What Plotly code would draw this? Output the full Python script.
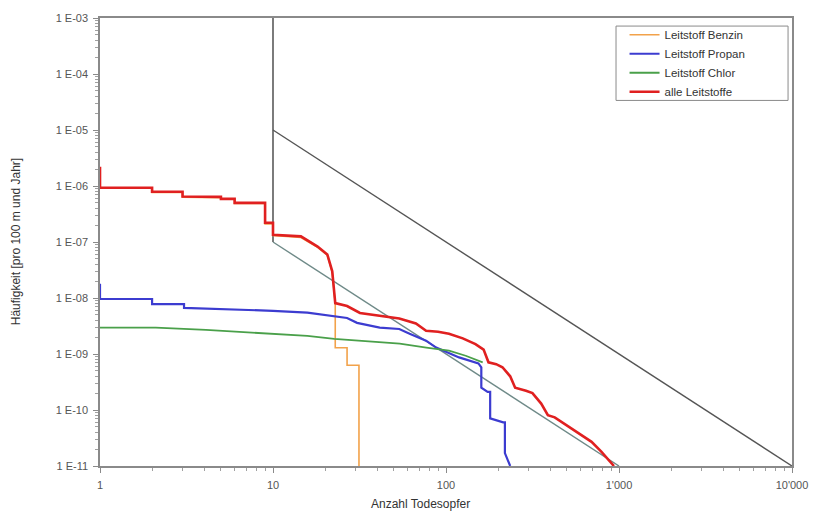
import plotly.graph_objects as go

# ---- data ----
red_x = [1, 1, 2, 2, 3, 3, 5, 5, 6, 6, 9, 9, 10, 10, 14.5, 18.1, 20.6, 22, 22.9,
         26.8, 31.8, 42, 53.7, 67, 76.7, 90, 104, 125, 148, 165, 176, 195, 212,
         235, 251, 290, 316, 355, 388, 425, 480, 553, 620, 694, 790, 935]
red_y = [2.2e-6, 9.3e-7, 9.3e-7, 7.9e-7, 7.9e-7, 6.5e-7, 6.4e-7, 5.9e-7, 5.9e-7,
         5.0e-7, 5.0e-7, 2.2e-7, 2.2e-7, 1.35e-7, 1.26e-7, 8.3e-8, 6.0e-8, 3.0e-8,
         8.1e-9, 7.2e-9, 5.4e-9, 4.8e-9, 4.3e-9, 3.5e-9, 2.6e-9, 2.5e-9, 2.3e-9,
         1.9e-9, 1.5e-9, 1.2e-9, 7.1e-10, 6.6e-10, 5.8e-10, 4.0e-10, 2.5e-10,
         2.2e-10, 2.0e-10, 1.3e-10, 8.1e-11, 7.4e-11, 5.8e-11, 4.4e-11, 3.4e-11,
         2.7e-11, 1.8e-11, 1.0e-11]

benzin_x = [1, 2, 2, 3, 3, 5, 5, 6, 6, 9, 9, 10, 10, 14.5, 18.1, 20.6, 22, 22.9,
            22.9, 26.8, 26.8, 31.4, 31.4]
benzin_y = [9.1e-7, 9.1e-7, 7.7e-7, 7.7e-7, 6.3e-7, 6.2e-7, 5.8e-7, 5.8e-7,
            4.9e-7, 4.9e-7, 2.1e-7, 2.1e-7, 1.3e-7, 1.2e-7, 8.0e-8, 5.8e-8,
            2.9e-8, 8.0e-9, 1.29e-9, 1.29e-9, 6.3e-10, 6.3e-10, 1.0e-11]

propan_x = [1, 1, 2, 2, 3.06, 3.06, 10, 15.8, 26.8, 30.6, 41.4, 53.7, 61.6, 76.7,
            87.8, 119, 154, 160, 160, 174, 180, 180, 214, 219, 219, 235]
propan_y = [1.8e-8, 9.6e-9, 9.6e-9, 7.8e-9, 7.8e-9, 6.65e-9, 5.9e-9, 5.5e-9,
            4.4e-9, 3.6e-9, 2.95e-9, 2.8e-9, 2.3e-9, 1.73e-9, 1.3e-9, 8.7e-10,
            6.8e-10, 5.8e-10, 2.5e-10, 2.1e-10, 2.1e-10, 7.1e-11, 6.0e-11,
            6.0e-11, 1.7e-11, 1.0e-11]

chlor_x = [1, 2.1, 4.1, 9, 15.8, 22.6, 54, 77, 104, 130, 163]
chlor_y = [2.95e-9, 2.95e-9, 2.7e-9, 2.3e-9, 2.1e-9, 1.87e-9, 1.53e-9, 1.3e-9,
           1.15e-9, 9.3e-10, 7.1e-10]

# reference limit lines
limit_v_x = [10, 10]
limit_v_y = [1e-3, 1e-7]
limit_hi_x = [10, 10000]
limit_hi_y = [1e-5, 1e-11]
limit_lo_x = [10, 1000]
limit_lo_y = [1e-7, 1e-11]

xtick_vals = [1, 10, 100, 1000, 10000]
xtick_text = ["1", "10", "100", "1'000", "10'000"]
ytick_vals = [1e-3, 1e-4, 1e-5, 1e-6, 1e-7, 1e-8, 1e-9, 1e-10, 1e-11]
ytick_text = ["1 E-03", "1 E-04", "1 E-05", "1 E-06", "1 E-07", "1 E-08",
              "1 E-09", "1 E-10", "1 E-11"]

x_minor = [m * 10 ** k for k in range(0, 4) for m in range(2, 10)]
y_minor = [m * 10.0 ** (-k) for k in range(4, 12) for m in range(2, 10)]

FONT = "Liberation Sans, Arial, sans-serif"
GRAY = "#555555"

fig = go.Figure()

for xs, ys, col, w in [(limit_v_x, limit_v_y, "#444444", 1.4),
                       (limit_hi_x, limit_hi_y, "#555555", 1.4),
                       (limit_lo_x, limit_lo_y, "#6f8a88", 1.4)]:
    fig.add_trace(go.Scatter(x=xs, y=ys, mode="lines", showlegend=False,
                             line=dict(color=col, width=w), hoverinfo="skip"))

fig.add_trace(go.Scatter(x=benzin_x, y=benzin_y, mode="lines", name="Leitstoff Benzin",
                         line=dict(color="#f2a24a", width=1.6)))
fig.add_trace(go.Scatter(x=propan_x, y=propan_y, mode="lines", name="Leitstoff Propan",
                         line=dict(color="#3c3cd0", width=2.2)))
fig.add_trace(go.Scatter(x=chlor_x, y=chlor_y, mode="lines", name="Leitstoff Chlor",
                         line=dict(color="#4aa04a", width=1.8)))
fig.add_trace(go.Scatter(x=red_x, y=red_y, mode="lines", name="alle Leitstoffe",
                         line=dict(color="#e02020", width=2.6)))

axis_common = dict(
    showgrid=False, zeroline=False, showline=True, linecolor="#8a8a8a",
    linewidth=1.5, mirror=True, ticks="outside", ticklen=5, tickcolor="#8a8a8a",
    tickfont=dict(family=FONT, size=11, color=GRAY),
    ticklabelstandoff=3,
)

fig.update_xaxes(type="log", range=[0, 4], tickvals=xtick_vals, ticktext=xtick_text,
                 minor=dict(ticks="outside", ticklen=3, tickcolor="#a0a0a0",
                            tickvals=x_minor),
                 **axis_common)
fig.update_yaxes(type="log", range=[-11, -3], tickvals=ytick_vals, ticktext=ytick_text,
                 minor=dict(ticks="outside", ticklen=3, tickcolor="#a0a0a0",
                            tickvals=y_minor),
                 **axis_common)

fig.update_layout(
    width=820, height=519,
    margin=dict(l=100, r=20, t=15, b=53),
    paper_bgcolor="white", plot_bgcolor="white",
    font=dict(family=FONT, color=GRAY),
    legend=dict(x=0.758, y=0.995, xanchor="left", yanchor="top",
                borderwidth=0, bgcolor="rgba(0,0,0,0)",
                font=dict(family=FONT, size=11.5, color="#333333"),
                tracegroupgap=0, itemwidth=30),
    shapes=[dict(type="rect", xref="paper", yref="paper",
                 x0=0.7457, x1=0.9943, y0=0.816, y1=0.982,
                 line=dict(color="#8a8a8a", width=1), fillcolor="rgba(0,0,0,0)",
                 layer="above")],
    annotations=[
        dict(text="Häufigkeit [pro 100 m und Jahr]", xref="paper", yref="paper",
             x=-0.121, y=0.5, textangle=-90, showarrow=False,
             xanchor="center", yanchor="middle",
             font=dict(family=FONT, size=12, color="#333333")),
        dict(text="Anzahl Todesopfer", xref="paper", yref="paper",
             x=0.463, y=-0.085, showarrow=False, xanchor="center", yanchor="middle",
             font=dict(family=FONT, size=12, color="#333333")),
    ],
)

fig.write_html("out.html")
